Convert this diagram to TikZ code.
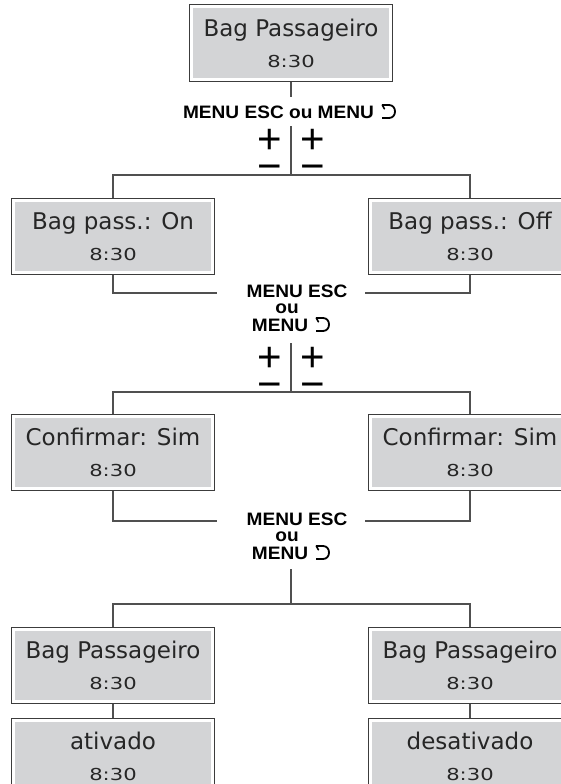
\documentclass[tikz,border=0pt]{standalone}
\usepackage{fontspec}
\usepackage{graphicx}
\newfontfamily\dispfont{DejaVu Sans}
\newfontfamily\labfont{Liberation Sans}
\newfontfamily\pmfont{Liberation Sans}
\definecolor{boxgray}{HTML}{D3D4D6}
\definecolor{edgec}{HTML}{3C3C3C}
\definecolor{linec}{HTML}{505050}
\definecolor{txtc}{HTML}{262626}
\newcommand{\lab}[1]{\scalebox{1.06}[1]{#1}}
\begin{document}
\begin{tikzpicture}[x=1pt,y=-1pt,
  dispbox/.style={rectangle, draw=edgec, line width=1pt, fill=white,
    minimum width=203pt, minimum height=76pt, inner sep=0pt,
    path picture={\fill[boxgray] ([xshift=3.5pt,yshift=-3.5pt]path picture bounding box.north west) rectangle ([xshift=-3.5pt,yshift=3.5pt]path picture bounding box.south east);}},
  bigtxt/.style={anchor=base, inner sep=0pt, text=txtc, font=\dispfont\fontsize{23}{23}\selectfont},
  timetxt/.style={anchor=base, inner sep=0pt, text=txtc, font=\dispfont\fontsize{16.5}{16.5}\selectfont},
  labtxt/.style={anchor=base, inner sep=0pt, text=black, text height=0.72em, text depth=0pt, font=\labfont\bfseries\fontsize{18}{18}\selectfont},
  pmtxt/.style={anchor=base, inner sep=0pt, text=black, text height=0.6em, text depth=0pt, font=\pmfont\fontsize{42}{42}\selectfont},
  conn/.style={draw=linec, line width=1.1pt},
  retarrow/.pic={
    \draw[black, line width=1.8pt] (0,0) -- (7,0) .. controls (15,0) and (15,13) .. (7,13) -- (0,13);
    \draw[black, line width=1.6pt, line cap=round] (0.3,0) -- (2.4,3.8);
  }
]
\useasboundingbox (0,0) rectangle (561,784);

% ---- boxes ----
\node[dispbox] (b1) at (291,43) {};
\node[dispbox] (b2l) at (113,236) {};
\node[dispbox] (b2r) at (470,236) {};
\node[dispbox] (b3l) at (113,452) {};
\node[dispbox] (b3r) at (470,452) {};
\node[dispbox] (b4l) at (113,665) {};
\node[dispbox] (b4r) at (470,665) {};
\node[dispbox] (b5l) at (113,756) {};
\node[dispbox] (b5r) at (470,756) {};

% ---- box texts ----
\foreach \b/\t in {b1/Bag Passageiro, b2l/{Bag pass.: On}, b2r/{Bag pass.: Off},
  b3l/{Confirmar: Sim}, b3r/{Confirmar: Sim}, b4l/Bag Passageiro, b4r/Bag Passageiro,
  b5l/ativado, b5r/desativado}{
  \node[bigtxt] (\b t) at ([yshift=-32pt]\b.north) {\t};
  \node[timetxt] (\b c) at ([yshift=-63pt]\b.north) {\scalebox{1.28}[1]{8:30}};
}

% ---- label 1 ----
\node[labtxt] (l1) at (278.5,118) {\lab{MENU ESC ou MENU}};
\pic at (382,105) {retarrow};
\coordinate (v1a) at (291,97);
\coordinate (v1b) at (291,126);
\coordinate (h1) at (291,175);
\node[pmtxt] (p1l) at (269.5,153) {+};
\node[pmtxt] (p1r) at (312.5,153) {+};
\node[pmtxt] (m1l) at (269.5,180) {−};
\node[pmtxt] (m1r) at (312.5,180) {−};
\draw[conn] (b1.south) -- (v1a);
\draw[conn] (v1b) -- (h1);
\draw[conn] (b2l.north) |- (h1) -| (b2r.north);

% ---- label 2 ----
\coordinate (e2l) at (217,293);
\coordinate (e2r) at (365,293);
\draw[conn] (b2l.south) |- (e2l);
\draw[conn] (b2r.south) |- (e2r);
\node[labtxt] (l2a) at (297,297) {\lab{MENU ESC}};
\node[labtxt] (l2b) at (287,313) {\lab{ou}};
\node[labtxt] (l2c) at (280,331) {\lab{MENU}};
\pic at (316,318) {retarrow};
\coordinate (v2b) at (291,343);
\coordinate (h2) at (291,392);
\node[pmtxt] (p2l) at (269.5,371) {+};
\node[pmtxt] (p2r) at (312.5,371) {+};
\node[pmtxt] (m2l) at (269.5,398) {−};
\node[pmtxt] (m2r) at (312.5,398) {−};
\draw[conn] (v2b) -- (h2);
\draw[conn] (b3l.north) |- (h2) -| (b3r.north);

% ---- label 3 ----
\coordinate (e3l) at (217,521);
\coordinate (e3r) at (365,521);
\draw[conn] (b3l.south) |- (e3l);
\draw[conn] (b3r.south) |- (e3r);
\node[labtxt] (l3a) at (297,525) {\lab{MENU ESC}};
\node[labtxt] (l3b) at (287,541) {\lab{ou}};
\node[labtxt] (l3c) at (280,559) {\lab{MENU}};
\pic at (316,546) {retarrow};
\coordinate (v3b) at (291,569);
\coordinate (h3) at (291,604);
\draw[conn] (v3b) -- (h3);
\draw[conn] (b4l.north) |- (h3) -| (b4r.north);

% ---- row 4 to row 5 ----
\draw[conn] (b4l.south) -- (b5l.north);
\draw[conn] (b4r.south) -- (b5r.north);
\end{tikzpicture}
\end{document}
